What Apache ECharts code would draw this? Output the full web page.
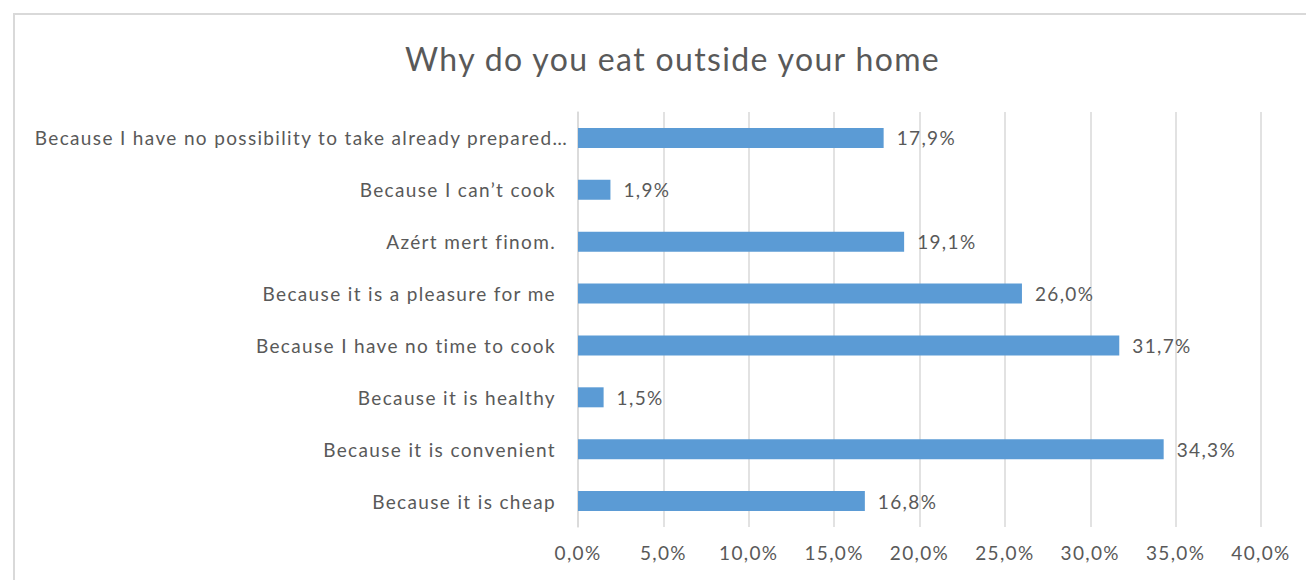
<!DOCTYPE html>
<html>
<head>
<meta charset="utf-8">
<script src="https://cdn.jsdelivr.net/npm/echarts@6/dist/echarts.min.js"></script>
<style>
  html, body { margin: 0; padding: 0; background: #ffffff; }
  #frame { position: absolute; left: 13px; top: 13px; width: 1300px; height: 580px; border: 2px solid #d9d9d9; box-sizing: border-box; }
  #chart { position: absolute; left: 0; top: 0; width: 1306px; height: 580px; }
  /* wider tracking for the chart's text */
  #chart svg text { letter-spacing: 1.35px; }
</style>
</head>
<body>
<div id="frame"></div>
<div id="chart"></div>
<script>
// Reasons for eating outside the home, share of respondents (%)
const categories = [
  'Because it is cheap',
  'Because it is convenient',
  'Because it is healthy',
  'Because I have no time to cook',
  'Because it is a pleasure for me',
  'Azért mert finom.',
  'Because I can\u2019t cook',
  'Because I have no possibility to take already prepared\u2026'
];
const shares = [16.8, 34.3, 1.5, 31.7, 26.0, 19.1, 1.9, 17.9];
const axisMax = 40;
const axisStep = 5;

const fmt = v => v.toFixed(1).replace('.', ',') + '%';
const textColor = '#595959';
const fontFamily = 'Lato, "Open Sans", sans-serif';

// the truncated (long) label sits a little closer to the axis
const categoryItems = categories.map((c, i) =>
  i === categories.length - 1 ? { value: c, textStyle: { padding: [0, -12, 0, 0] } } : c
);

const chart = echarts.init(document.getElementById('chart'), null, { renderer: 'svg' });
chart.setOption({
  animation: false,
  textStyle: { fontFamily: fontFamily },
  title: {
    text: 'Why do you eat outside your home',
    left: 400,
    top: 37,
    textStyle: { color: textColor, fontSize: 32, fontWeight: 'normal', fontFamily: fontFamily }
  },
  grid: { left: 578, right: 45, top: 112, bottom: 53, containLabel: false },
  xAxis: {
    type: 'value',
    min: 0,
    max: axisMax,
    interval: axisStep,
    axisLine: { show: false },
    axisTick: { show: false },
    axisLabel: { color: textColor, fontSize: 19, margin: 16, formatter: v => fmt(v) },
    splitLine: { show: true, lineStyle: { color: '#d9d9d9', width: 1.5 } }
  },
  yAxis: {
    type: 'category',
    data: categoryItems,
    axisLine: { show: true, lineStyle: { color: '#d9d9d9', width: 1.5 } },
    axisTick: { show: false },
    axisLabel: { color: textColor, fontSize: 19, margin: 22 }
  },
  series: [{
    type: 'bar',
    data: shares,
    barWidth: 20,
    itemStyle: { color: '#5b9bd5' },
    label: {
      show: true,
      position: 'right',
      distance: 13,
      color: textColor,
      fontSize: 19,
      formatter: p => fmt(p.value)
    }
  }]
});
</script>
</body>
</html>
